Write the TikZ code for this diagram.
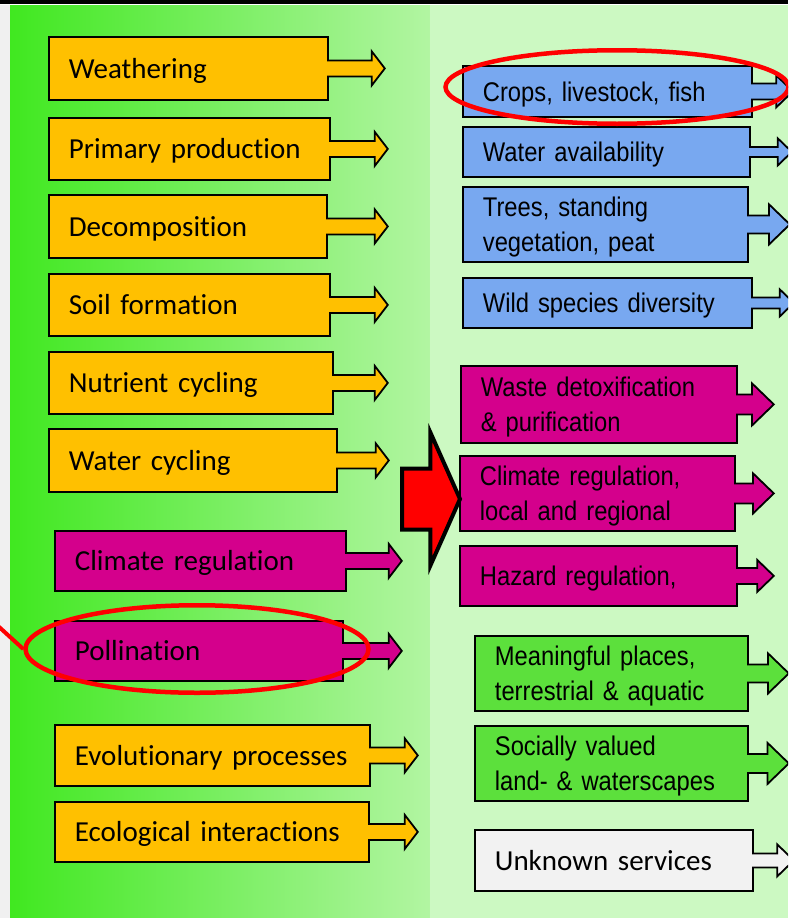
\documentclass[tikz,border=0pt]{standalone}
\usepackage{fontspec}
\setmainfont[Ligatures=NoCommon]{Carlito}
\newfontfamily\narrowsans[FakeStretch=0.88]{Liberation Sans}
\usetikzlibrary{shapes.arrows,shapes.geometric}
\definecolor{procorange}{HTML}{FFC000}
\definecolor{provblue}{HTML}{78A8F0}
\definecolor{regmagenta}{HTML}{D4008C}
\definecolor{culgreen}{HTML}{5CE03C}
\definecolor{unkgray}{HTML}{F2F2F2}
\definecolor{panelgreen}{HTML}{CCF9C2}
\definecolor{gradleft}{HTML}{40E820}
\definecolor{gradright}{HTML}{B2F5A2}
\tikzset{
		% boxes with one arrow leaving on the right
		flow box/.style={shape=arrow box,draw=black,line width=1.8pt,anchor=north west,
			inner xsep=20pt,inner ysep=1pt,align=left,arrow box head indent=0pt,
			arrow box arrows={north:0pt,south:0pt,west:0pt}},
		one line/.style={text height=19.5pt,text depth=0pt},
		two lines/.style={text height=20pt,text depth=35pt},
		process box/.style={flow box,one line,font=\fontsize{29}{34}\selectfont,
			arrow box shaft width=16pt,arrow box head extend=9pt,arrow box tip angle=105},
		service box/.style={flow box,font=\narrowsans\fontsize{27}{35}\selectfont,
			arrow box tip angle=88},
		ring/.style={ellipse,draw=red,line width=4.5pt,inner sep=0pt}
	}
\begin{document}
\begin{tikzpicture}[x=1pt,y=-1pt]
		\clip (0,0) rectangle (788,918);
		\fill[white] (0,0) rectangle (788,918);
		\fill[black] (0,0) rectangle (788,3.5);
		\fill[black!6] (0,5) rectangle (10,918);
		\fill[left color=gradleft,right color=gradright] (10,5) rectangle (430,918);
		\fill[panelgreen] (430,5) rectangle (788,918);
		% processes
		\node[process box,fill=procorange,text width=239pt,minimum height=63pt,arrow box arrows={east:56pt}] (weath) at (48,36) {Weathering};
		\node[process box,fill=procorange,text width=241pt,minimum height=62pt,arrow box arrows={east:57pt}] (primprod) at (48,117) {Primary production};
		\node[process box,fill=procorange,text width=238pt,minimum height=63pt,arrow box arrows={east:60pt}] (decomp) at (48,194) {Decomposition};
		\node[process box,fill=procorange,text width=241pt,minimum height=62pt,arrow box arrows={east:57pt}] (soilform) at (48,273) {Soil formation};
		\node[process box,fill=procorange,text width=244pt,minimum height=62pt,arrow box arrows={east:54pt}] (nutcyc) at (48,351) {Nutrient cycling};
		\node[process box,fill=procorange,text width=248pt,minimum height=63pt,arrow box arrows={east:51pt}] (watcyc) at (48,428) {Water cycling};
		\node[process box,fill=regmagenta,text width=251pt,minimum height=60pt,arrow box arrows={east:55pt}] (climreg) at (54,530) {Climate regulation};
		\node[process box,fill=regmagenta,text width=248pt,minimum height=60pt,arrow box arrows={east:58pt}] (pollin) at (54,620) {Pollination};
		\node[process box,fill=procorange,text width=275pt,minimum height=61pt,arrow box arrows={east:47pt}] (evolproc) at (54,724) {Evolutionary processes};
		\node[process box,fill=procorange,text width=274pt,minimum height=60pt,arrow box arrows={east:48pt}] (ecolint) at (54,801) {Ecological interactions};
		% services
		\node[service box,one line,fill=provblue,text width=249pt,minimum height=51pt,arrow box shaft width=16pt,arrow box head extend=8pt,arrow box arrows={east:40pt}] (crops) at (462,65) {Crops, livestock, fish};
		\node[service box,one line,fill=provblue,text width=247pt,minimum height=50pt,arrow box shaft width=10pt,arrow box head extend=8.5pt,arrow box arrows={east:41pt}] (wateravail) at (462,126) {Water availability};
		\node[service box,two lines,fill=provblue,text width=245pt,minimum height=75pt,arrow box shaft width=18pt,arrow box head extend=11pt,arrow box arrows={east:41pt}] (trees) at (462,186) {Trees, standing\\vegetation, peat};
		\node[service box,one line,fill=provblue,text width=249pt,minimum height=50pt,arrow box shaft width=11pt,arrow box head extend=8pt,arrow box arrows={east:41pt}] (wildspec) at (462,277) {Wild species diversity};
		\node[service box,two lines,fill=regmagenta,text width=236pt,minimum height=77pt,arrow box shaft width=20pt,arrow box head extend=11pt,arrow box arrows={east:36pt}] (waste) at (460,365) {Waste detoxification\\\& purification};
		\node[service box,two lines,fill=regmagenta,text width=235pt,minimum height=75pt,arrow box shaft width=20pt,arrow box head extend=10pt,arrow box arrows={east:38pt}] (climloc) at (459,455) {Climate regulation,\\local and regional};
		\node[service box,one line,fill=regmagenta,text width=237pt,minimum height=60pt,arrow box shaft width=16pt,arrow box head extend=8pt,arrow box arrows={east:36pt}] (hazard) at (459,545) {Hazard regulation,};
		\node[service box,two lines,fill=culgreen,text width=233pt,minimum height=75pt,arrow box shaft width=18pt,arrow box head extend=11pt,arrow box arrows={east:40pt}] (meanplac) at (474,635) {Meaningful places,\\terrestrial \& aquatic};
		\node[service box,two lines,fill=culgreen,text width=233pt,minimum height=75pt,arrow box shaft width=19pt,arrow box head extend=11pt,arrow box arrows={east:40pt}] (socval) at (474,725) {Socially valued\\land- \& waterscapes};
		\node[service box,one line,fill=unkgray,font=\fontsize{29}{34}\selectfont,text width=238pt,minimum height=61pt,arrow box shaft width=14pt,arrow box head extend=9pt,arrow box arrows={east:40pt}] (unknown) at (474,829) {Unknown services};
		% big arrow between the columns
		\node[single arrow,draw=black,fill=red,line width=4pt,inner xsep=0pt,inner ysep=28.5pt,minimum height=58pt,
			single arrow head extend=36pt,single arrow tip angle=132,anchor=tail] (bigarrow) at (400,499) {};
		% highlights
		\node[ring,minimum width=343pt,minimum height=73.5pt] (ringcrops) at (617,87) {};
		\node[ring,minimum width=343pt,minimum height=87.5pt] (ringpollin) at (197,649) {};
		\coordinate (ringtail) at (-2,626);
		\draw[red,line width=4pt] (ringtail) -- (ringpollin.west);
	\end{tikzpicture}
\end{document}
